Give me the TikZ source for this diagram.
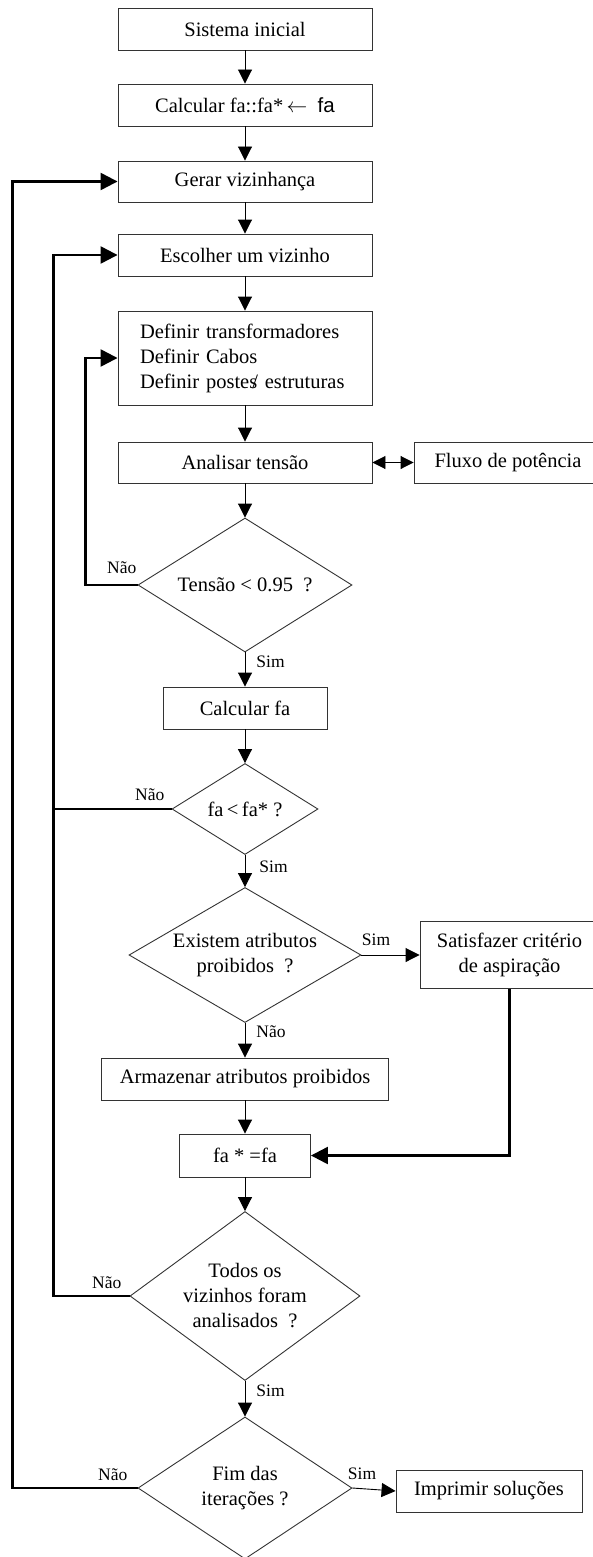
\documentclass[tikz,border=0pt]{standalone}
\usepackage{fontspec}
\setmainfont{Liberation Serif}
\setsansfont{Liberation Sans}
\usetikzlibrary{shapes.geometric, arrows.meta}
\tikzset{
box/.style={
	rectangle,
	draw=black!80,
	line width=0.9pt,
	minimum width=254pt,
	minimum height=42pt,
	inner sep=2pt,
	align=center,
	font=\fontsize{20.5}{25}\selectfont
},
decision/.style={
	diamond,
	draw=black!80,
	line width=0.9pt,
	aspect=1.5,
	inner sep=0pt,
	align=center,
	font=\fontsize{20.5}{25}\selectfont
},
arrow/.style={
	line width=0.9pt,
	-{Triangle[length=14pt,width=14pt]}
},
dblarrow/.style={
	line width=0.9pt,
	{Triangle[length=13pt,width=13pt]}-{Triangle[length=13pt,width=13pt]}
},
looparrow/.style={
	line width=2.4pt,
	-{Triangle[length=17pt,width=17pt]}
},
loopline/.style={
	line width=2.4pt
},
lbl/.style={
	inner sep=0pt,
	font=\fontsize{17.5}{20}\selectfont
}
}

\begin{document}
\begin{tikzpicture}[x=1pt, y=1pt]
\useasboundingbox (0,0) rectangle (593,-1557);

\node (Sistema) [box] at (245,-29) {Sistema inicial};
\node (Calcular) [box, below of=Sistema, node distance=76pt] {Calcular fa::fa*\,$\leftarrow$\ \ {\sffamily fa}};
\node (Gerar) [box, below of=Calcular, node distance=76.5pt, minimum height=41pt] {Gerar vizinhança};
\node (Escolher) [box, below of=Gerar, node distance=73.5pt] {Escolher um vizinho};
\node (Definir) [box, below of=Escolher, node distance=103pt, minimum height=94pt, text width=210pt, align=left] {Definir transformadores\\
  Definir Cabos\\
  Definir postes\kern-5pt/ estruturas};
\node (Analisar) [box, below of=Definir, node distance=104.5pt, minimum height=41pt] {Analisar tensão};
\node (Fluxo) [box, right of=Analisar, node distance=263pt, minimum width=188pt, minimum height=41pt] {Fluxo de potência};
\node (Tensao) [decision, below of=Analisar, node distance=122.5pt, minimum width=214pt, minimum height=134pt] {Tensão < 0.95 \ ?};
\node (CalcFa) [box, below of=Tensao, node distance=123pt, minimum width=164pt] {Calcular fa};
\node (Compara) [decision, below of=CalcFa, node distance=101pt, minimum width=146pt, minimum height=91pt] {fa\,<\,fa* ?};
\node (Existem) [decision, below of=Compara, node distance=146pt, minimum width=232pt, minimum height=135pt, aspect=1.75] {Existem atributos\\
  proibidos \ ?};
\node (Satisfazer) [box, right of=Existem, node distance=264.5pt, minimum width=179pt, minimum height=67pt] {Satisfazer critério\\
  de aspiração};
\node (Armazenar) [box, below of=Existem, node distance=124pt, minimum width=287pt] {Armazenar atributos proibidos};
\node (Atualiza) [box, below of=Armazenar, node distance=76.5pt, minimum width=131pt, minimum height=43pt] {fa * =fa};
\node (Todos) [decision, below of=Atualiza, node distance=140.5pt, minimum width=230pt, minimum height=169pt] {Todos os\\
  vizinhos foram\\
  analisados \ ?};
\node (Fim) [decision, below of=Todos, node distance=192pt, minimum width=214pt, minimum height=142pt] {Fim das\\
  iterações ?};
\node (Imprimir) [box, right of=Fim, node distance=244pt, yshift=-3pt, minimum width=186pt] {Imprimir soluções};

% Main column
\draw[arrow] (Sistema.south)   -- (Calcular.north);
\draw[arrow] (Calcular.south)  -- (Gerar.north);
\draw[arrow] (Gerar.south)     -- (Escolher.north);
\draw[arrow] (Escolher.south)  -- (Definir.north);
\draw[arrow] (Definir.south)   -- (Analisar.north);
\draw[arrow] (Analisar.south)  -- (Tensao.north);
\draw[arrow] (Tensao.south) node[lbl, anchor=base west, xshift=11pt, yshift=-15pt] {Sim} -- (CalcFa.north);
\draw[arrow] (CalcFa.south)    -- (Compara.north);
\draw[arrow] (Compara.south) node[lbl, anchor=base west, xshift=14pt, yshift=-18pt] {Sim} -- (Existem.north);
\draw[arrow] (Existem.south) node[lbl, anchor=base west, xshift=11pt, yshift=-15pt] {Não} -- (Armazenar.north);
\draw[arrow] (Armazenar.south) -- (Atualiza.north);
\draw[arrow] (Atualiza.south)  -- (Todos.north);
\draw[arrow] (Todos.south) node[lbl, anchor=base west, xshift=11pt, yshift=-16pt] {Sim} -- (Fim.north);

% Side branches
\draw[dblarrow] (Analisar.east) -- (Fluxo.west);
\draw[arrow] (Existem.east) node[lbl, anchor=base west, yshift=10pt] {Sim} -- (Satisfazer.west);
\draw[looparrow] (Satisfazer.south) |- (Atualiza.east);
\draw[arrow] (Fim.east) node[lbl, anchor=base west, xshift=-5pt, yshift=9pt] {Sim} -- (Imprimir.west);

% Feedback loops
\draw[looparrow] (Tensao.west) node[lbl, anchor=base east, yshift=12pt] {Não} -| ([xshift=-32pt]Definir.west) -- (Definir.west);
\draw[looparrow] (Compara.west) node[lbl, anchor=base east, xshift=-6pt, yshift=9pt] {Não} -| ([xshift=-64pt]Escolher.west) -- (Escolher.west);
\draw[loopline] (Todos.west) node[lbl, anchor=base east, xshift=-7pt, yshift=8pt] {Não} -| ([xshift=-64pt]Escolher.west);
\draw[looparrow] (Fim.west) node[lbl, anchor=base east, xshift=-9pt, yshift=8pt] {Não} -| ([xshift=-105pt]Gerar.west) -- (Gerar.west);

\end{tikzpicture}
\end{document}
